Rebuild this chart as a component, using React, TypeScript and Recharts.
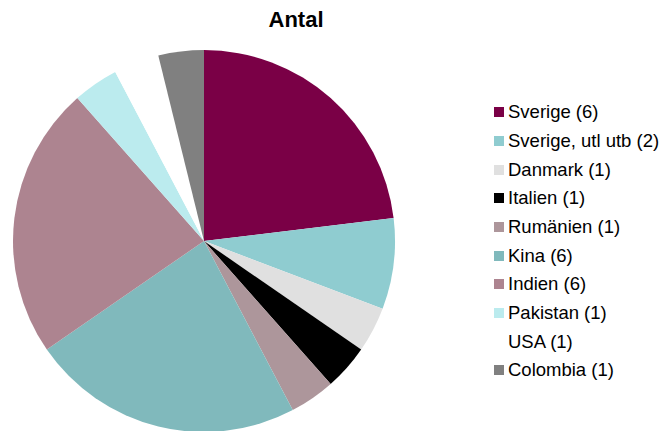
import React from "react";
import { PieChart, Pie, Cell, Legend } from "recharts";

const categories = [
  "Sverige",
  "Sverige, utl utb",
  "Danmark",
  "Italien",
  "Rumänien",
  "Kina",
  "Indien",
  "Pakistan",
  "USA",
  "Colombia",
];
const counts = [6, 2, 1, 1, 1, 6, 6, 1, 1, 1];
const colors = [
  "#7A0046",
  "#8FCCD0",
  "#E0E0E0",
  "#000000",
  "#AD969B",
  "#80B9BC",
  "#AD8490",
  "#BBEBEE",
  "#FFFFFF",
  "#808080",
];

const data = categories.map((name, i) => ({ name, value: counts[i] }));

const renderLegend = () => (
  <div style={{ fontFamily: "'Liberation Sans', Arial, sans-serif", fontSize: 18.5, color: "#000" }}>
    {data.map((d, i) => (
      <div key={d.name} style={{ display: "flex", alignItems: "center", height: 28.67 }}>
        <span
          style={{
            display: "inline-block",
            width: 10,
            height: 10,
            background: colors[i],
            marginRight: 4,
          }}
        />
        <span style={{ whiteSpace: "nowrap" }}>{`${d.name} (${d.value})`}</span>
      </div>
    ))}
  </div>
);

const App: React.FC = () => {
  return (
    <div style={{ position: "absolute", left: 0, top: 0, width: 661, height: 431, background: "#fff" }}>
      <div
        style={{
          position: "absolute",
          left: 246,
          top: 7,
          width: 100,
          textAlign: "center",
          fontFamily: "'Liberation Sans', Arial, sans-serif",
          fontWeight: "bold",
          fontSize: 22,
          whiteSpace: "nowrap",
        }}
      >
        Antal
      </div>
      <PieChart width={661} height={431} margin={{ top: 0, right: 0, bottom: 0, left: 0 }}>
        <Pie
          data={data}
          dataKey="value"
          nameKey="name"
          cx={204}
          cy={241}
          outerRadius={191}
          startAngle={90}
          endAngle={-270}
          stroke="none"
          isAnimationActive={false}
        >
          {data.map((d, i) => (
            <Cell key={d.name} fill={colors[i]} />
          ))}
        </Pie>
        <Legend
          content={renderLegend}
          wrapperStyle={{ position: "absolute", left: 494, top: 98, width: 170 }}
        />
      </PieChart>
    </div>
  );
};

export default App;
